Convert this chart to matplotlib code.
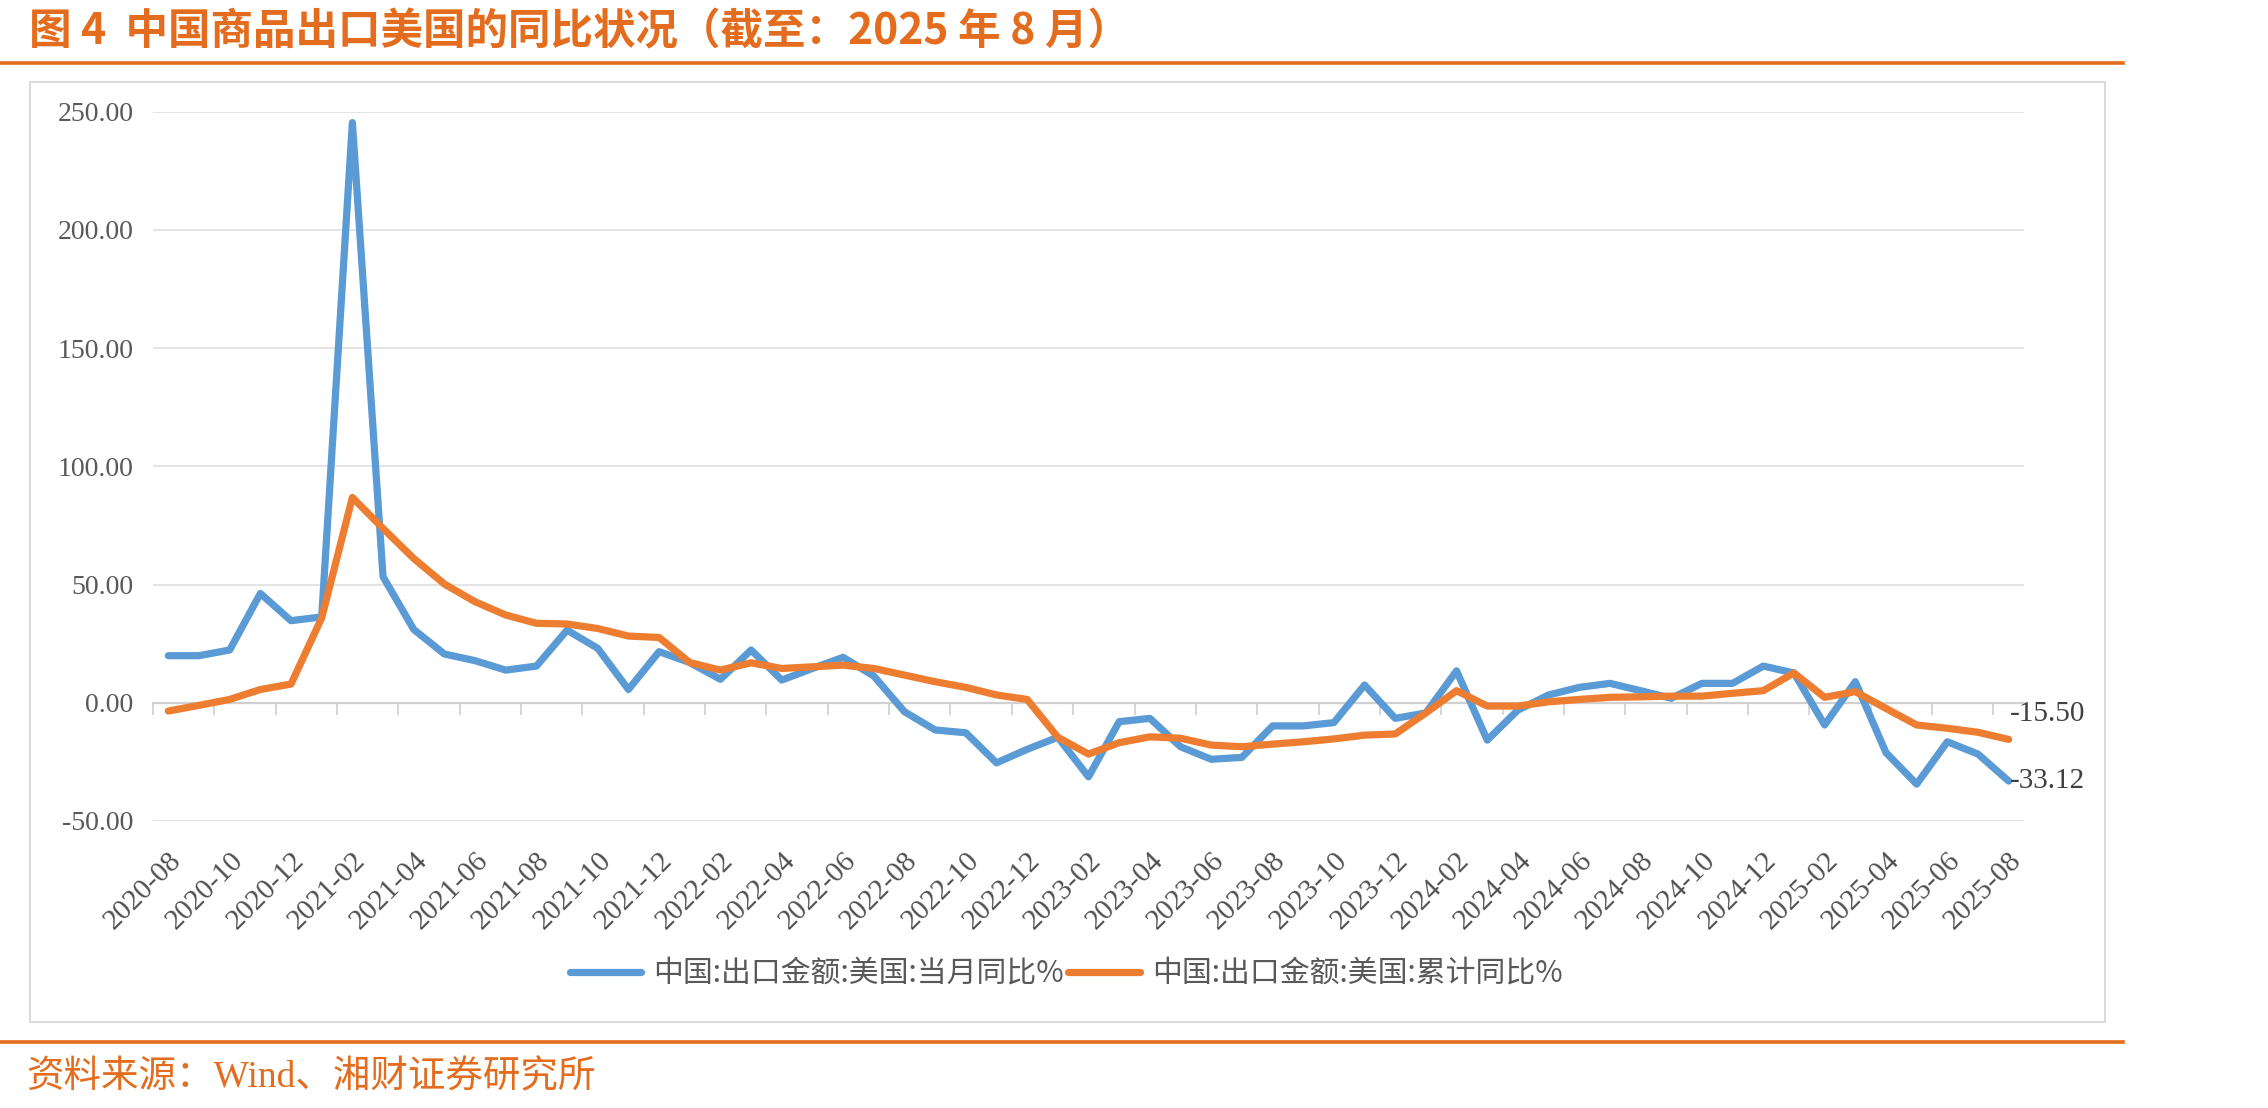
import matplotlib
matplotlib.use("Agg")
import matplotlib.pyplot as plt
import pandas as pd
from matplotlib.lines import Line2D
from matplotlib.patches import Rectangle

plt.rcParams['font.family'] = ['Liberation Serif', 'Noto Sans CJK SC', 'DejaVu Sans']

# ---------------- data ----------------
months = [p.strftime('%Y-%m') for p in pd.period_range('2020-08', '2025-08', freq='M')]

monthly_yoy = [19.9, 19.9, 22.3, 46.2, 34.7, 36.3, 245.3, 53.3, 31.0, 20.6,
               17.8, 13.8, 15.5, 30.7, 23.0, 5.6, 21.6, 17.0, 9.9, 22.3,
               9.6, 14.5, 19.2, 11.3, -3.8, -11.5, -12.7, -25.4, -19.7, -14.6,
               -31.3, -8.0, -6.6, -18.6, -23.9, -23.1, -9.8, -9.8, -8.4, 7.5,
               -6.6, -4.3, 13.5, -15.8, -3.1, 3.3, 6.5, 8.2, 5.1, 1.9,
               8.2, 8.2, 15.5, 12.6, -9.4, 8.9, -21.1, -34.4, -16.5, -21.7,
               -33.12]

cumulative_yoy = [-3.5, -1.1, 1.4, 5.6, 7.9, 35.9, 86.8, 73.7, 61.0, 50.2,
                  42.7, 37.1, 33.6, 33.3, 31.4, 28.2, 27.6, 17.0, 13.8, 16.9,
                  14.5, 15.2, 15.9, 14.5, 11.7, 8.9, 6.5, 3.3, 1.4, -14.6,
                  -21.7, -16.9, -14.4, -15.0, -17.9, -18.6, -17.5, -16.5, -15.3, -13.7,
                  -13.2, -4.3, 5.1, -1.4, -1.4, 0.4, 1.4, 2.3, 2.5, 2.8,
                  2.8, 4.0, 5.1, 12.6, 2.3, 4.7, -2.4, -9.4, -10.8, -12.5,
                  -15.50]

series_names = ['中国:出口金额:美国:当月同比%', '中国:出口金额:美国:累计同比%']
y_ticks = [-50, 0, 50, 100, 150, 200, 250]

title_text = '图 4  中国商品出口美国的同比状况（截至：2025 年 8 月）'
source_text = '资料来源：Wind、湘财证券研究所'

# ---------------- style ----------------
BLUE = '#5B9BD5'
ORANGE = '#ED7D31'
ACCENT = '#E36C1E'
GRID = '#DDDDDD'
TEXT_GRAY = '#595959'
CJK = ['Noto Sans CJK SC', 'DejaVu Sans']

W, H = 2268, 1108
fig = plt.figure(figsize=(W / 100, H / 100), dpi=100)
fig.patch.set_facecolor('white')

def fx(px):
    return px / W

def fy(py):
    return 1 - py / H

# title and decorative rules
fig.text(fx(29), fy(31), title_text, fontsize=30.6, fontweight='bold', color=ACCENT,
         family=CJK, ha='left', va='center')
fig.add_artist(Line2D([0, fx(2123)], [fy(63), fy(63)], color=ACCENT, lw=2.6,
                      transform=fig.transFigure))
fig.add_artist(Line2D([0, fx(2123)], [fy(1042), fy(1042)], color=ACCENT, lw=2.6,
                      transform=fig.transFigure))
fig.text(fx(26), fy(1078), source_text, fontsize=27, color=ACCENT,
         family=['Liberation Serif', 'Noto Sans CJK SC', 'DejaVu Sans'],
         ha='left', va='center')

# chart border
fig.add_artist(Rectangle((fx(30), fy(1022)), fx(2105) - fx(30), fy(82) - fy(1022),
                         transform=fig.transFigure, fill=False, edgecolor='#D9D9D9', lw=1.4))

# axes
ax = fig.add_axes([fx(153), fy(821), fx(2024) - fx(153), fy(111.5) - fy(821)])
x = list(range(len(months)))

ax.plot(x, monthly_yoy, color=BLUE, lw=5.2, solid_joinstyle='round',
        solid_capstyle='round', label=series_names[0], zorder=3)
ax.plot(x, cumulative_yoy, color=ORANGE, lw=5.2, solid_joinstyle='round',
        solid_capstyle='round', label=series_names[1], zorder=4)

ax.set_xlim(-0.5, len(months) - 0.5)
ax.set_ylim(-50, 250)
ax.set_yticks(y_ticks)
ax.set_yticklabels([f'{v:.2f}' for v in y_ticks])
ax.tick_params(axis='y', length=0, pad=14, labelsize=20, labelcolor=TEXT_GRAY)
ax.yaxis.grid(True, color=GRID, lw=1.1)
ax.set_axisbelow(True)

for s in ['top', 'right', 'left']:
    ax.spines[s].set_visible(False)
ax.spines['bottom'].set_position(('data', 0))
ax.spines['bottom'].set_color('#D0D0D0')
ax.spines['bottom'].set_linewidth(1.6)
ax.spines['bottom'].set_zorder(2)

# tick marks on the zero axis at category boundaries
ax.set_xticks([i - 0.5 for i in range(0, len(months), 2)])
ax.tick_params(axis='x', which='major', length=8.5, width=1.2, color='#D0D0D0',
               direction='out', labelbottom=False)

# category labels at the bottom of the plot area
sec = ax.secondary_xaxis('bottom')
sec.set_xticks(x[::2])
sec.set_xticklabels(months[::2])
sec.spines['bottom'].set_visible(False)
sec.tick_params(axis='x', length=0, pad=19, labelsize=21, labelcolor='#505050')
for lab in sec.get_xticklabels():
    lab.set_rotation(45)
    lab.set_ha('right')
    lab.set_va('top')
    lab.set_rotation_mode('anchor')

# end-point labels
ax.annotate(f'{monthly_yoy[-1]:.2f}', (x[-1], monthly_yoy[-1]), xytext=(1, 0),
            textcoords='offset points', ha='left', va='center', fontsize=21,
            color='#404040', annotation_clip=False)
ax.annotate(f'{cumulative_yoy[-1]:.2f}', (x[-1], cumulative_yoy[-1]), xytext=(1, 18.5),
            textcoords='offset points', ha='left', va='center', fontsize=21,
            color='#404040', annotation_clip=False)

# legend
leg = fig.legend(handles=ax.get_lines(), labels=series_names, loc='center',
                 bbox_to_anchor=(fx(1066), fy(974)), ncol=2, frameon=False,
                 prop={'family': CJK, 'size': 21.5}, handlelength=2.4,
                 handletextpad=0.4, columnspacing=0.15)
for t in leg.get_texts():
    t.set_color(TEXT_GRAY)

fig.savefig('out.png', dpi=100, facecolor='white')
